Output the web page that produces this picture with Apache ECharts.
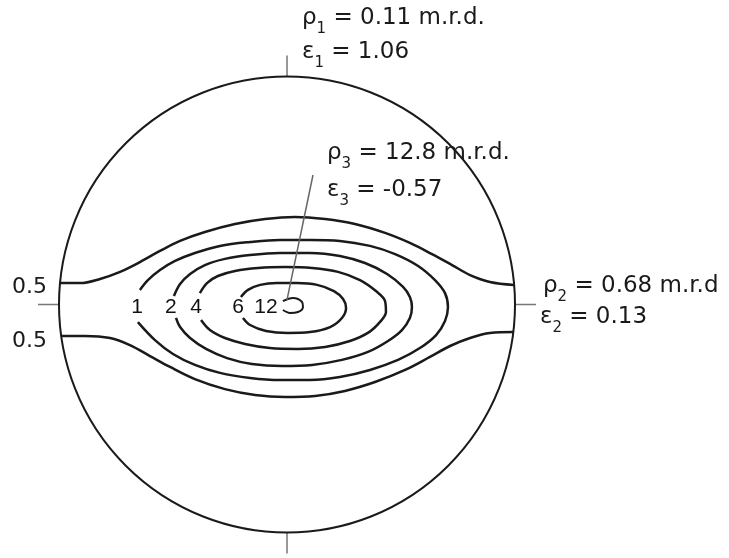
<!DOCTYPE html>
<html><head><meta charset="utf-8">
<script src="https://cdn.jsdelivr.net/npm/echarts@6/dist/echarts.min.js"></script>
<style>html,body{margin:0;padding:0;background:#fff}#c{width:729px;height:558px}</style>
</head><body><div id="c"></div>
<script>
// Contour data (units: percent of net radius, centre = 0,0)
const contour05Upper = [[-99.5,9.4],[-90.8,9.4],[-82.0,11.2],[-73.2,14.3],[-64.5,18.6],[-55.7,23.5],[-46.9,27.9],[-36.0,31.8],[-22.8,35.3],[-9.6,37.5],[3.5,38.4],[16.7,37.5],[29.8,35.3],[43.0,31.4],[53.9,27.0],[63.6,22.1],[72.4,17.3],[80.3,12.9],[89.0,9.9],[99.6,8.6]];
const contour05Lower = [[-99.0,-13.8],[-88.6,-13.8],[-77.6,-14.7],[-68.9,-17.8],[-60.1,-22.6],[-51.3,-27.4],[-40.4,-32.7],[-27.2,-37.1],[-14.0,-39.7],[-0.9,-40.6],[12.3,-40.1],[25.4,-37.9],[38.6,-34.0],[51.8,-28.7],[62.7,-23.0],[71.5,-18.2],[80.3,-14.7],[89.0,-12.5],[99.3,-12.1]];
const contour1 = [[-64.5,6.4],[-61.0,10.7],[-55.7,15.1],[-49.1,19.1],[-40.4,22.6],[-29.4,25.7],[-16.2,27.4],[-3.1,28.3],[10.1,28.3],[23.2,27.9],[36.4,25.7],[47.4,22.1],[57.5,16.9],[64.9,10.7],[69.3,5.0],[70.6,-1.1],[69.3,-7.2],[65.4,-13.4],[58.3,-19.1],[48.7,-24.3],[36.4,-28.7],[23.2,-31.8],[10.1,-33.1],[-3.1,-33.1],[-16.2,-32.2],[-29.4,-30.0],[-40.4,-26.5],[-50.0,-21.7],[-57.9,-15.6],[-65.4,-7.7]];
const contour2 = [[-49.6,3.7],[-46.9,9.0],[-42.5,13.4],[-36.0,17.3],[-27.2,20.0],[-16.2,21.7],[-3.1,22.6],[10.1,22.6],[23.2,21.3],[34.2,18.2],[43.9,13.4],[50.9,7.7],[53.9,3.3],[54.8,-1.1],[53.9,-5.9],[50.4,-11.2],[44.3,-16.0],[35.5,-20.8],[24.1,-24.3],[11.0,-26.5],[-2.2,-27.0],[-15.4,-26.1],[-26.3,-23.5],[-35.5,-19.5],[-42.5,-14.7],[-46.9,-9.9],[-48.7,-5.9]];
const contour4 = [[-38.2,5.0],[-35.1,9.4],[-30.3,12.5],[-22.8,14.7],[-12.7,16.0],[-0.9,16.4],[11.0,16.0],[22.4,14.3],[32.0,10.7],[39.0,5.9],[43.0,1.5],[43.4,-3.3],[41.2,-7.2],[36.0,-12.1],[27.6,-16.0],[16.7,-18.6],[4.8,-19.5],[-7.5,-19.1],[-18.4,-17.3],[-27.2,-14.7],[-33.8,-11.2],[-37.7,-6.8]];
const contour6 = [[-20.2,3.3],[-17.1,6.4],[-11.8,8.6],[-4.4,9.4],[4.4,9.4],[13.2,8.6],[20.6,5.9],[24.6,2.4],[25.9,-1.5],[24.1,-5.9],[18.9,-9.9],[10.1,-12.1],[0.4,-12.5],[-9.2,-11.6],[-16.2,-9.0],[-19.3,-5.9]];
const contour12 = [[-1.8,1.5],[2.6,2.9],[6.6,1.1],[7.0,-1.1],[4.8,-3.3],[1.3,-3.7],[-1.8,-2.4]];
const leaderLine = [[0,2.0],[11.4,56.8]];

const levelLabels = ['1','2','4','6','12'];
const levelLabelX = [-65.8,-50.9,-39.9,-21.5,-9.2];
const levelLabelY = -1.3;
const edgeLabels = ['0.5','0.5'];

const rhoValues = ['0.11','0.68','12.8'];
const rhoUnits = ['m.r.d.','m.r.d','m.r.d.'];
const epsValues = ['1.06','0.13','-0.57'];

const CX = 287, CY = 304.5, R = 228;
const FONT = 'DejaVu Sans';
const rich = {
  m: {fontSize: 23, fontFamily: FONT, lineHeight: 38, fill: '#1a1a1a'},
  s: {fontSize: 15, fontFamily: FONT, lineHeight: 14, verticalAlign: 'bottom', fill: '#1a1a1a'}
};
function ann(x, y, sym, sub, rest) {
  return {type: 'text', x: x, y: y, silent: true,
    style: {text: '{m|' + sym + '}{s|' + sub + '}{m|' + rest + '}', rich: rich, align: 'left', verticalAlign: 'middle'}};
}
function plain(x, y, t) {
  return {type: 'text', x: x, y: y, silent: true,
    style: {text: t, fontSize: 22, fontFamily: FONT, fill: '#1a1a1a', align: 'left', verticalAlign: 'middle'}};
}
const lineSeries = (data, opt) => Object.assign({
  type: 'line', data: data, symbol: 'none', smooth: 0.35, silent: true, animation: false,
  lineStyle: {color: '#1a1a1a', width: 2.5}, xAxisIndex: 0, yAxisIndex: 0
}, opt || {});

const chart = echarts.init(document.getElementById('c'));
chart.setOption({
  animation: false,
  backgroundColor: '#ffffff',
  polar: {center: [CX, CY], radius: R},
  angleAxis: {type: 'value', min: 0, max: 360, interval: 90, startAngle: 90,
    axisLine: {show: true, lineStyle: {color: '#1a1a1a', width: 2}},
    axisTick: {show: true, inside: false, length: 21, lineStyle: {color: '#777', width: 1.5}},
    axisLabel: {show: false}, splitLine: {show: false}},
  radiusAxis: {type: 'value', min: 0, max: 1, show: false},
  grid: {left: CX - R, top: CY - R, width: 2 * R, height: 2 * R},
  xAxis: {type: 'value', min: -100, max: 100, show: false},
  yAxis: {type: 'value', min: -100, max: 100, show: false},
  series: [
    {type: 'line', coordinateSystem: 'polar', data: [], silent: true},
    lineSeries(contour05Upper),
    lineSeries(contour05Lower),
    lineSeries(contour1),
    lineSeries(contour2),
    lineSeries(contour4),
    lineSeries(contour6),
    lineSeries(contour12, {lineStyle: {color: '#1a1a1a', width: 2}}),
    lineSeries(leaderLine, {smooth: false, lineStyle: {color: '#666', width: 1.5}}),
    {type: 'scatter', symbolSize: 0, silent: true, itemStyle: {opacity: 1},
      data: levelLabels.map((t, i) => ({value: [levelLabelX[i], levelLabelY], name: t})),
      label: {show: true, position: 'inside', formatter: '{b}', fontSize: 21, fontFamily: 'Liberation Sans', color: '#111', opacity: 1}}
  ],
  graphic: [
    ann(302, 18, 'ρ', '1', ' = ' + rhoValues[0] + ' ' + rhoUnits[0]),
    ann(302, 52, 'ε', '1', ' = ' + epsValues[0]),
    ann(327, 153, 'ρ', '3', ' = ' + rhoValues[2] + ' ' + rhoUnits[2]),
    ann(327, 190, 'ε', '3', ' = ' + epsValues[2]),
    ann(543, 286, 'ρ', '2', ' = ' + rhoValues[1] + ' ' + rhoUnits[1]),
    ann(540, 317, 'ε', '2', ' = ' + epsValues[1]),
    plain(12, 287, edgeLabels[0]),
    plain(12, 341.5, edgeLabels[1])
  ]
});
</script></body></html>
